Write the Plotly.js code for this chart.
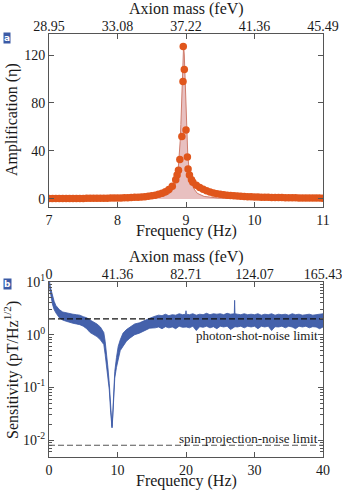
<!DOCTYPE html>
<html>
<head>
<meta charset="utf-8">
<script src="https://cdn.plot.ly/plotly-3.0.1.min.js"></script>
<style>html,body{margin:0;padding:0;background:#fff;}#chart{width:342px;height:490px;}</style>
</head>
<body>
<div id="chart"></div>
<script>
// ---------- Panel a: amplification ----------
const ampFreq = [7.00,7.05,7.10,7.15,7.20,7.25,7.30,7.35,7.40,7.45,7.50,7.55,7.60,7.65,7.70,7.75,7.80,7.85,7.90,7.95,
  8.00,8.05,8.10,8.15,8.20,8.25,8.30,8.35,8.40,8.45,8.50,8.55,8.60,8.65,8.70,8.75,8.80,8.85,
  8.87,8.89,8.91,8.94,8.956,8.96,8.975,9.00,9.02,9.03,9.05,9.08,
  9.10,9.15,9.20,9.25,9.30,9.35,9.40,9.45,9.50,9.55,9.60,9.65,9.70,9.75,9.80,9.85,9.90,9.95,
  10.00,10.05,10.10,10.15,10.20,10.25,10.30,10.35,10.40,10.45,10.50,10.55,10.60,10.65,10.70,10.75,10.80,10.85,10.90,10.95,11.00];
const ampValue = [0.3,0.3,0.3,0.3,0.35,0.35,0.4,0.4,0.4,0.45,0.45,0.5,0.5,0.55,0.6,0.6,0.65,0.7,0.75,0.8,
  0.85,0.9,1.0,1.1,1.2,1.35,1.5,1.7,1.95,2.3,2.7,3.2,3.9,4.8,6.0,7.8,10.5,16,
  20,24,33,52,98,127,108,57.5,35,25,20,16,
  14,11.5,9.5,8,6.8,5.8,5.0,4.4,3.9,3.5,3.1,2.8,2.6,2.4,2.2,2.05,1.9,1.8,
  1.7,1.6,1.5,1.45,1.4,1.3,1.25,1.2,1.15,1.1,1.05,1.0,0.95,0.9,0.9,0.85,0.8,0.8,0.75,0.75,0.7];
const fitFreq = [7.0,7.965,8.465,8.665,8.765,8.815,8.865,8.885,8.905,8.915,8.925,8.935,8.945,8.955,8.965,
  8.975,8.985,8.995,9.005,9.015,9.025,9.045,9.065,9.115,9.165,9.265,9.465,9.965,11.0];
const fitValue = [0.05,0.2,0.77,2.1,4.7,8.5,17,24,38,48,62,80,101,120,128,
  120,101,80,62,48,38,24,17,8.5,4.7,2.1,0.77,0.2,0.05];
const freqTicksA = [7,8,9,10,11];
const massTicksA = ['28.95','33.08','37.22','41.36','45.49'];
const ampTicks = [0,40,80,120];

// ---------- Panel b: sensitivity ----------
const sensFreq = [0,0.1,0.2,0.35,0.5,0.75,1.0,1.5,2,2.5,3,3.5,4,4.5,5,5.5,6,6.5,7,7.5,
  8.0,8.2,8.4,8.6,8.8,9.0,9.1,9.2,9.3,9.45,9.6,9.85,10.1,10.4,10.8,11.3,11.8,12.5,13.2,14,14.7,
  15.5,16,16.5,17,17.5,18,18.5,19,19.5,19.95,20.0,20.05,20.5,21,21.5,22,22.5,23,23.5,24,24.5,25,25.5,26,26.5,27,27.05,27.1,27.15,
  27.5,28,28.5,29,29.5,30,30.5,31,31.5,32,32.5,33,33.5,34,34.5,35,35.5,36,36.5,37,37.5,38,38.5,39,39.5,40];
const sensUpper = [11,10,8,6.5,5.2,4.3,3.6,3.0,2.7,2.6,2.5,2.45,2.4,2.35,2.2,2.1,1.9,1.75,1.6,1.4,
  1.1,0.75,0.45,0.24,0.12,0.042,0.026,0.018,0.03,0.12,0.2,0.37,0.6,0.8,1.07,1.25,1.4,1.6,1.68,1.9,2.05,
  2.25,2.35,2.3,2.45,2.3,2.4,2.35,2.5,2.4,2.45,2.85,2.45,2.4,2.5,2.35,2.45,2.4,2.55,2.4,2.5,2.45,2.5,2.4,2.55,2.45,2.5,2.5,4.5,2.5,
  2.45,2.4,2.5,2.4,2.45,2.4,2.5,2.35,2.45,2.4,2.5,2.35,2.45,2.4,2.45,2.35,2.5,2.4,2.45,2.35,2.4,2.45,2.35,2.4,2.45,2.5];
const sensLower = [9,7.5,6,4.8,3.8,3.0,2.6,2.1,1.9,1.8,1.7,1.65,1.6,1.55,1.45,1.3,1.1,1.0,0.92,0.8,
  0.65,0.42,0.25,0.16,0.09,0.034,0.022,0.017,0.026,0.09,0.15,0.24,0.36,0.5,0.6,0.75,0.86,1.0,1.07,1.2,1.33,
  1.35,1.4,1.3,1.42,1.35,1.4,1.3,1.45,1.38,1.4,1.4,1.4,1.35,1.45,1.2,1.42,1.38,1.45,1.35,1.42,1.3,1.45,1.4,1.45,1.25,1.42,1.42,1.42,1.42,
  1.4,1.45,1.35,1.45,1.4,1.45,1.3,1.45,1.4,1.45,1.2,1.42,1.4,1.45,1.35,1.45,1.4,1.3,1.45,1.4,1.45,1.35,1.42,1.4,1.3,1.4];
const limitFreq = [0,40];
const photonShotLimit = [2.0,2.0];
const spinProjectionLimit = [0.008,0.008];
const freqTicksB = [0,10,20,30,40];
const massTicksB = ['0','41.36','82.71','124.07','165.43'];
const sensTickVals = [0.01,0.1,1,10];
const sensTickText = ['10<sup>-2</sup>','10<sup>-1</sup>','10<sup>0</sup>','10<sup>1</sup>'];
const sensMinorVals = [0.005,0.006,0.007,0.008,0.009,0.02,0.03,0.04,0.05,0.06,0.07,0.08,0.09,
  0.2,0.3,0.4,0.5,0.6,0.7,0.8,0.9,2,3,4,5,6,7,8,9];

const FONT = 'Liberation Serif, Times New Roman, serif';
const AX = '#555';
const BLUE = '#3a58a6';
const TS = 16;
const TXT = '#1a1a1a';

const traces = [
  {x: fitFreq, y: fitValue, xaxis:'x', yaxis:'y', mode:'lines', fill:'tozeroy',
   fillcolor:'rgba(214,140,140,0.55)', line:{color:'#cf7c6c', width:1}, hoverinfo:'skip'},
  {x: ampFreq, y: ampValue, xaxis:'x', yaxis:'y', mode:'markers',
   marker:{color:'#e0561c', size:7.5}, hoverinfo:'skip'},
  {x: freqTicksA, y: [0,0,0,0,0], xaxis:'x3', yaxis:'y', mode:'none', hoverinfo:'skip'},
  {x: sensFreq, y: sensLower, xaxis:'x2', yaxis:'y2', mode:'lines', line:{color:BLUE, width:0.8}, hoverinfo:'skip'},
  {x: sensFreq, y: sensUpper, xaxis:'x2', yaxis:'y2', mode:'lines', fill:'tonexty',
   fillcolor:'rgba(58,88,166,0.95)', line:{color:BLUE, width:0.8}, hoverinfo:'skip'},
  {x: limitFreq, y: photonShotLimit, xaxis:'x2', yaxis:'y2', mode:'lines',
   line:{color:'#111', width:1.1, dash:'6px,3px'}, hoverinfo:'skip'},
  {x: limitFreq, y: spinProjectionLimit, xaxis:'x2', yaxis:'y2', mode:'lines',
   line:{color:'#555', width:1.1, dash:'6px,3px'}, hoverinfo:'skip'},
  {x: freqTicksB, y: [1,1,1,1,1], xaxis:'x4', yaxis:'y2', mode:'none', hoverinfo:'skip'}
];

const baseAxis = {showline:true, linecolor:AX, linewidth:1, ticks:'inside', ticklen:5, tickcolor:AX,
  showgrid:false, zeroline:false, ticklabeloverflow:'allow',
  tickfont:{family:FONT, size:14, color:TXT}};

// pixel -> paper helpers (plot area: x 49..323, y 34..457)
const px = v => (v - 49) / 274;
const py = v => (457 - v) / 423;
const titleAnn = (text, x, y, rot) => ({xref:'paper', yref:'paper', x:px(x), y:py(y), text:text, showarrow:false,
  xanchor:'center', yanchor:'middle', textangle:rot || 0, font:{family:FONT, size:TS, color:TXT}});

const layout = {
  width:342, height:490, showlegend:false,
  margin:{l:49, r:19, t:34, b:33},
  paper_bgcolor:'#fff', plot_bgcolor:'#fff',
  font:{family:FONT, color:TXT},
  xaxis: Object.assign({}, baseAxis, {domain:[0,1], anchor:'y', range:[7,11], tickvals:freqTicksA, mirror:true}),
  yaxis: Object.assign({}, baseAxis, {domain:[0.591,1], anchor:'x', range:[-6.7,137.5], tickvals:ampTicks, mirror:'ticks'}),
  xaxis3: Object.assign({}, baseAxis, {overlaying:'x', side:'top', anchor:'y', range:[7,11], tickvals:freqTicksA,
    ticktext:massTicksA, ticklabelstandoff:-4}),
  xaxis2: Object.assign({}, baseAxis, {domain:[0,1], anchor:'y2', range:[0,40], tickvals:freqTicksB, mirror:true}),
  yaxis2: Object.assign({}, baseAxis, {domain:[0,0.4137], anchor:'x2', type:'log', range:[-2.32,1.0],
    tickvals:sensTickVals, ticktext:sensTickText, mirror:'ticks',
    minor:{tickmode:'array', tickvals:sensMinorVals, ticks:'inside', ticklen:3, tickcolor:AX, showgrid:false}}),
  xaxis4: Object.assign({}, baseAxis, {overlaying:'x2', side:'top', anchor:'y2', range:[0,40], tickvals:freqTicksB,
    ticktext:massTicksB, ticklabelstandoff:-4}),
  annotations:[
    titleAnn('Axion mass (feV)', 186, 9),
    titleAnn('Frequency (Hz)', 186, 231),
    titleAnn('Axion mass (feV)', 186, 257),
    titleAnn('Frequency (Hz)', 186, 481),
    titleAnn('Amplification (η)', 12, 120, -90),
    titleAnn('Sensitivity (pT/Hz<sup>1/2</sup>)', 11, 370, -90),
    {xref:'x2', yref:'y2', x:39.6, y:Math.log10(0.95), text:'photon-shot-noise limit', showarrow:false,
     xanchor:'right', yanchor:'middle', font:{family:FONT, size:13, color:TXT}},
    {xref:'x2', yref:'y2', x:39.6, y:Math.log10(0.0108), text:'spin-projection-noise limit', showarrow:false,
     xanchor:'right', yanchor:'middle', font:{family:FONT, size:13, color:TXT}},
    {xref:'paper', yref:'paper', x:px(7), y:py(38.5), text:'<b>a</b>', showarrow:false, xanchor:'center', yanchor:'middle',
     bgcolor:'#3b5aa5', borderpad:0, font:{family:'DejaVu Sans', size:9, color:'#fff'}},
    {xref:'paper', yref:'paper', x:px(7), y:py(283.5), text:'<b>b</b>', showarrow:false, xanchor:'center', yanchor:'middle',
     bgcolor:'#3b5aa5', borderpad:0, font:{family:'DejaVu Sans', size:9, color:'#fff'}}
  ]
};

Plotly.newPlot('chart', traces, layout, {staticPlot:true, displayModeBar:false});
</script>
</body>
</html>
